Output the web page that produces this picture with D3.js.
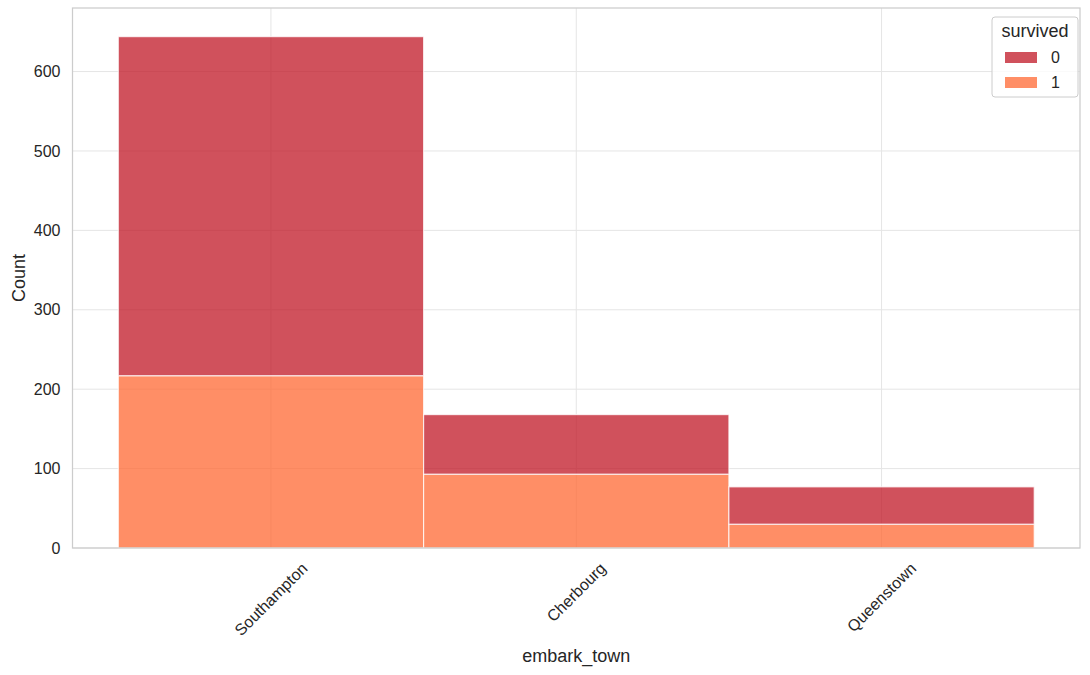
<!DOCTYPE html>
<html><head><meta charset="utf-8">
<script src="https://cdn.jsdelivr.net/npm/d3@7"></script>
<style>body{margin:0;background:#fff}svg{display:block}text{font-family:"Liberation Sans",Arial,sans-serif;fill:#262626}</style>
</head><body><div id="chart"></div>
<script>
const categories = ["Southampton", "Cherbourg", "Queenstown"];
const survived0 = [427, 75, 47];
const survived1 = [217, 93, 30];
const yTicks = [0, 100, 200, 300, 400, 500, 600];
const legendLabels = ["0", "1"];
const colors = ["rgb(192,23,37)", "rgb(255,104,51)"];

const W = 1090, H = 675;
const m = {left: 72.5, right: 10, top: 8, bottom: 127};
const svg = d3.select("#chart").append("svg").attr("width", W).attr("height", H);
const iw = W - m.left - m.right, ih = H - m.top - m.bottom;
const g = svg.append("g").attr("transform", `translate(${m.left},${m.top})`);

const totals = categories.map((c, i) => survived0[i] + survived1[i]);
const n = categories.length;
const x = d3.scaleLinear().domain([-0.5 - 0.05 * n, n - 0.5 + 0.05 * n]).range([0, iw]);
const y = d3.scaleLinear().domain([0, d3.max(totals) * 1.056]).range([ih, 0]);

const tickFs = 16, labelFs = 18;

// grid
g.selectAll(".hg").data(yTicks).join("line")
  .attr("x1", 0).attr("x2", iw).attr("y1", d => y(d)).attr("y2", d => y(d))
  .attr("stroke", "#e5e5e5").attr("stroke-width", 1);
g.selectAll(".vg").data(categories).join("line")
  .attr("x1", (d, i) => x(i)).attr("x2", (d, i) => x(i)).attr("y1", 0).attr("y2", ih)
  .attr("stroke", "#e5e5e5").attr("stroke-width", 1);

// bars: survived=1 at bottom, survived=0 stacked on top
const stack = [
  {vals: survived1, base: categories.map(() => 0), color: colors[1]},
  {vals: survived0, base: survived1, color: colors[0]}
];
stack.forEach(s => {
  g.selectAll(null).data(categories).join("rect")
    .attr("x", (d, i) => x(i - 0.5))
    .attr("width", x(1) - x(0))
    .attr("y", (d, i) => y(s.base[i] + s.vals[i]))
    .attr("height", (d, i) => y(s.base[i]) - y(s.base[i] + s.vals[i]))
    .attr("fill", s.color).attr("fill-opacity", 0.75)
    .attr("stroke", "#ffffff").attr("stroke-opacity", 0.75).attr("stroke-width", 1.2);
});

// frame
g.append("rect").attr("x", 0).attr("y", 0).attr("width", iw).attr("height", ih)
  .attr("fill", "none").attr("stroke", "#cccccc").attr("stroke-width", 1.25);

// y axis labels
g.selectAll(".yt").data(yTicks).join("text")
  .attr("x", -12).attr("y", d => y(d)).attr("dy", "0.35em")
  .attr("text-anchor", "end").style("font-size", tickFs + "px").text(d => d);

// x tick labels rotated 45, bbox centered on tick, top-aligned
const xt = g.selectAll(".xt").data(categories).join("text")
  .attr("text-anchor", "middle").attr("dominant-baseline", "central")
  .style("font-size", tickFs + "px").text(d => d);
xt.each(function(d, i) {
  const L = this.getComputedTextLength();
  const h = tickFs * 1.15;
  const half = (L + h) * Math.SQRT1_2 / 2;
  d3.select(this).attr("transform", `translate(${x(i)},${ih + 11 + half}) rotate(-45)`);
});

// axis labels
svg.append("text").attr("x", m.left + iw / 2).attr("y", 662)
  .attr("text-anchor", "middle").style("font-size", labelFs + "px").text("embark_town");
svg.append("text").attr("transform", `translate(25,${m.top + ih / 2}) rotate(-90)`)
  .attr("text-anchor", "middle").style("font-size", labelFs + "px").text("Count");

// legend
const lg = svg.append("g").attr("transform", "translate(992,17)");
lg.append("rect").attr("width", 86).attr("height", 80).attr("rx", 3)
  .attr("fill", "#fff").attr("fill-opacity", 0.8).attr("stroke", "#cccccc");
lg.append("text").attr("x", 43).attr("y", 20).attr("text-anchor", "middle")
  .style("font-size", labelFs + "px").text("survived");
legendLabels.forEach((l, i) => {
  lg.append("rect").attr("x", 13).attr("y", 35 + i * 25).attr("width", 32).attr("height", 11)
    .attr("fill", colors[i]).attr("fill-opacity", 0.75);
  lg.append("text").attr("x", 59).attr("y", 40.5 + i * 25).attr("dy", "0.35em")
    .style("font-size", tickFs + "px").text(l);
});
</script></body></html>
